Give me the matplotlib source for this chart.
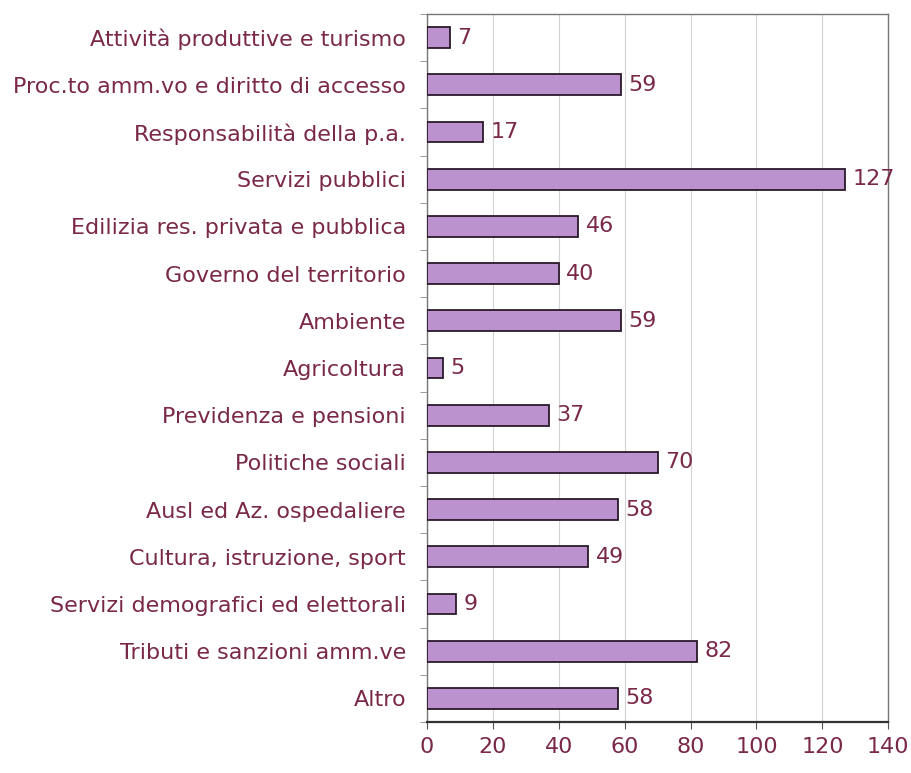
import numpy as np
import matplotlib.pyplot as plt

categorie = ['Attività produttive e turismo', 'Proc.to amm.vo e diritto di accesso',
             'Responsabilità della p.a.', 'Servizi pubblici',
             'Edilizia res. privata e pubblica', 'Governo del territorio',
             'Ambiente', 'Agricoltura', 'Previdenza e pensioni',
             'Politiche sociali', 'Ausl ed Az. ospedaliere',
             'Cultura, istruzione, sport', 'Servizi demografici ed elettorali',
             'Tributi e sanzioni amm.ve', 'Altro']
valori = [7, 59, 17, 127, 46, 40, 59, 5, 37, 70, 58, 49, 9, 82, 58]
xticks = [0, 20, 40, 60, 80, 100, 120, 140]

testo = '#7a2848'
viola = '#bb92ce'

fig = plt.figure(figsize=(9.12, 7.73), dpi=100)
ax = fig.add_axes([0.468, 0.066, 0.506, 0.916])

y = np.arange(len(categorie))
ax.barh(y, valori, height=0.44, color=viola, edgecolor='#2a1a2a', linewidth=1.3, zorder=3)
for yi, v in zip(y, valori):
    ax.text(v + 2.2, yi, str(v), va='center', ha='left', fontsize=16, color=testo)

ax.set_xlim(0, 140)
ax.set_ylim(len(categorie) - 0.5, -0.5)
ax.set_xticks(xticks)
ax.set_xticklabels([str(t) for t in xticks], fontsize=16, color=testo)
ax.set_yticks(y)
ax.set_yticklabels(categorie, fontsize=16, color=testo)
ax.set_yticks(np.arange(len(categorie) + 1) - 0.5, minor=True)
ax.tick_params(axis='y', which='major', length=0, pad=15)
ax.tick_params(axis='y', which='minor', length=5, color='#888888')
ax.tick_params(axis='x', length=5, color='#555555', pad=6)
ax.grid(axis='x', color='#d4d4d4', linewidth=0.8, zorder=0)
for s in ax.spines.values():
    s.set_color('#777777')
    s.set_linewidth(1.0)
ax.spines['bottom'].set_linewidth(1.6)
ax.spines['bottom'].set_color('#333333')

plt.savefig('out.png', dpi=100)
